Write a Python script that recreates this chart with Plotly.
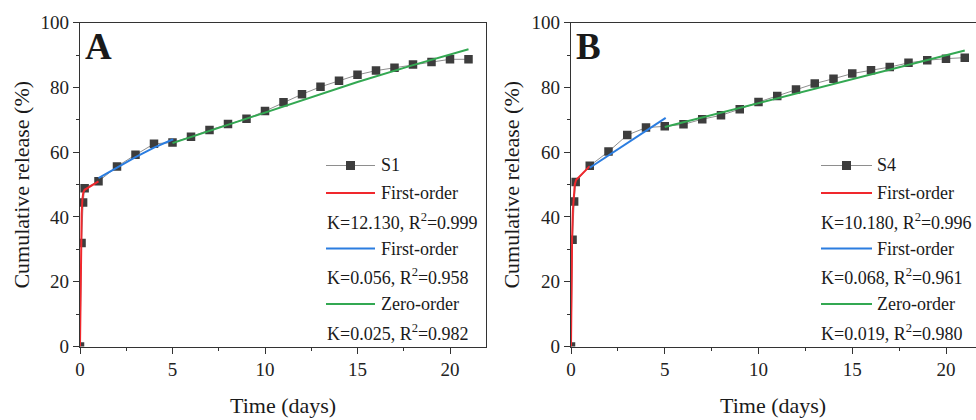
import plotly.graph_objects as go

# ---------------- data ----------------
t_data = [0, 0.083, 0.167, 0.25] + list(range(1, 22))
s1 = [0, 32.0, 44.5, 48.9, 51.0, 55.6, 59.2, 62.6, 63.0, 64.8, 66.9, 68.7, 70.3,
      72.7, 75.4, 77.9, 80.2, 82.1, 83.9, 85.2, 86.1, 87.1, 87.9, 88.7, 88.7]
s4 = [0, 33.0, 44.8, 50.8, 55.8, 60.2, 65.3, 67.6, 68.0, 68.6, 70.2, 71.4, 73.3,
      75.5, 77.4, 79.4, 81.2, 82.7, 84.3, 85.3, 86.3, 87.6, 88.4, 88.9, 89.2]

# fitted curves
a_red_t = [0, 0.03, 0.06, 0.09, 0.13, 0.18, 0.25, 1]
a_red_y = [0, 18.0, 32.0, 41.0, 45.5, 47.6, 48.4, 51.0]
a_blue_t = [1, 2, 3, 4, 5.04]
a_blue_y = [52.0, 55.3, 58.5, 61.4, 64.0]
a_green_t = [5, 10, 15, 18, 21]
a_green_y = [62.8, 72.2, 81.7, 86.9, 91.8]

b_red_t = [0, 0.03, 0.06, 0.10, 0.15, 0.20, 0.27, 1]
b_red_y = [0, 22.0, 34.0, 42.0, 47.0, 50.0, 51.4, 55.7]
b_blue_t = [1, 2, 3, 4, 5.05]
b_blue_y = [55.2, 59.0, 62.7, 66.4, 70.6]
b_green_t = [5, 13, 21]
b_green_y = [67.8, 79.7, 91.4]

legend_a = ["S1", "First-order", "K=12.130, R<sup>2</sup>=0.999", "First-order",
            "K=0.056, R<sup>2</sup>=0.958", "Zero-order", "K=0.025, R<sup>2</sup>=0.982"]
legend_b = ["S4", "First-order", "K=10.180, R<sup>2</sup>=0.996", "First-order",
            "K=0.068, R<sup>2</sup>=0.961", "Zero-order", "K=0.019, R<sup>2</sup>=0.980"]

x_ticks = [0, 5, 10, 15, 20]
y_ticks = [0, 20, 40, 60, 80, 100]

# ---------------- style ----------------
W, H = 976, 420
FONT = "Liberation Serif, Times New Roman, serif"
RED, BLUE, GREEN = "#f0282d", "#2b7de0", "#33a852"
MARK, DLINE, AXC = "#3d3d3d", "#8e8e8e", "#333333"


def px(x):
    return x / W


def py(y):
    return 1 - y / H


fig = go.Figure()


def add_panel(idx, t, s, red, blue, green):
    xa = "x" if idx == 1 else "x2"
    ya = "y" if idx == 1 else "y2"
    fig.add_trace(go.Scatter(x=t, y=s, mode="lines+markers", xaxis=xa, yaxis=ya,
                             line=dict(color=DLINE, width=1),
                             marker=dict(symbol="square", size=8.5, color=MARK),
                             showlegend=False))
    for (tt, yy), c in zip([red, blue, green], [RED, BLUE, GREEN]):
        fig.add_trace(go.Scatter(x=tt, y=yy, mode="lines", xaxis=xa, yaxis=ya,
                                 line=dict(color=c, width=2), showlegend=False))


add_panel(1, t_data, s1, (a_red_t, a_red_y), (a_blue_t, a_blue_y), (a_green_t, a_green_y))
add_panel(2, t_data, s4, (b_red_t, b_red_y), (b_blue_t, b_blue_y), (b_green_t, b_green_y))

ydom = [py(346.5), py(22.7)]
common_x = dict(tickvals=x_ticks, ticks="outside", ticklen=6, tickwidth=1.3,
                tickcolor=AXC, showline=True, linecolor=AXC, linewidth=1.3,
                mirror=True, showgrid=False, zeroline=False, automargin=False,
                tickfont=dict(family=FONT, size=19, color="#222"),
                minor=dict(dtick=2.5, ticks="outside", ticklen=3, tickcolor=AXC, tickwidth=1.2))
common_y = dict(range=[0, 100], tickvals=y_ticks, ticks="outside", ticklen=6, tickwidth=1.3,
                tickcolor=AXC, showline=True, linecolor=AXC, linewidth=1.3,
                mirror=True, showgrid=False, zeroline=False, automargin=False,
                tickfont=dict(family=FONT, size=19, color="#222"),
                minor=dict(dtick=10, ticks="outside", ticklen=3, tickcolor=AXC, tickwidth=1.2),
                domain=ydom)

xa1 = dict(common_x); xa1.update(range=[0, (486 - 80) / 18.5], domain=[px(80), px(486)], anchor="y")
xa2 = dict(common_x); xa2.update(range=[0, (976 - 571) / 18.75], domain=[px(571), 1.0], anchor="y2")
ya1 = dict(common_y); ya1.update(anchor="x")
ya2 = dict(common_y); ya2.update(anchor="x2")

annotations = []
shapes = []


def text(x, y, s, size=18, xanchor="left", angle=0, bold=False):
    annotations.append(dict(x=px(x), y=py(y), xref="paper", yref="paper", text=s,
                            showarrow=False, xanchor=xanchor, yanchor="middle",
                            textangle=angle,
                            font=dict(family=FONT, size=size, color="#1a1a1a",
                                      weight="bold" if bold else "normal")))


def legend(lx0, lx1, tx, kx, labels):
    rows = [165.5, 193, 221, 248.5, 276.5, 304, 332]
    colors = [DLINE, RED, None, BLUE, None, GREEN, None]
    for lab, yrow, c in zip(labels, rows, colors):
        if c is None:
            text(kx, yrow, lab)
        else:
            shapes.append(dict(type="line", xref="paper", yref="paper",
                               x0=px(lx0), x1=px(lx1), y0=py(yrow), y1=py(yrow),
                               line=dict(color=c, width=1 if c == DLINE else 2)))
            if c == DLINE:
                xm = (lx0 + lx1) / 2
                shapes.append(dict(type="rect", xref="paper", yref="paper",
                                   x0=px(xm - 4.5), x1=px(xm + 4.5),
                                   y0=py(yrow + 4.5), y1=py(yrow - 4.5),
                                   fillcolor=MARK, line=dict(width=0)))
            text(tx, yrow, lab)


legend(326, 375, 379, 325, legend_a)
legend(821, 872, 875, 819, legend_b)

# panel letters
text(98, 46, "A", size=37, xanchor="center", bold=True)
text(588, 46, "B", size=37, xanchor="center", bold=True)
# axis titles
text(283, 405, "Time (days)", size=22, xanchor="center")
text(773, 405, "Time (days)", size=22, xanchor="center")
text(22, 184.6, "Cumulative release (%)", size=22, xanchor="center", angle=-90)
text(512, 184.6, "Cumulative release (%)", size=22, xanchor="center", angle=-90)

fig.update_layout(width=W, height=H, margin=dict(l=0, r=0, t=0, b=0),
                  paper_bgcolor="white", plot_bgcolor="white",
                  xaxis=xa1, xaxis2=xa2, yaxis=ya1, yaxis2=ya2,
                  annotations=annotations, shapes=shapes, showlegend=False)

fig.write_html("out.html")
